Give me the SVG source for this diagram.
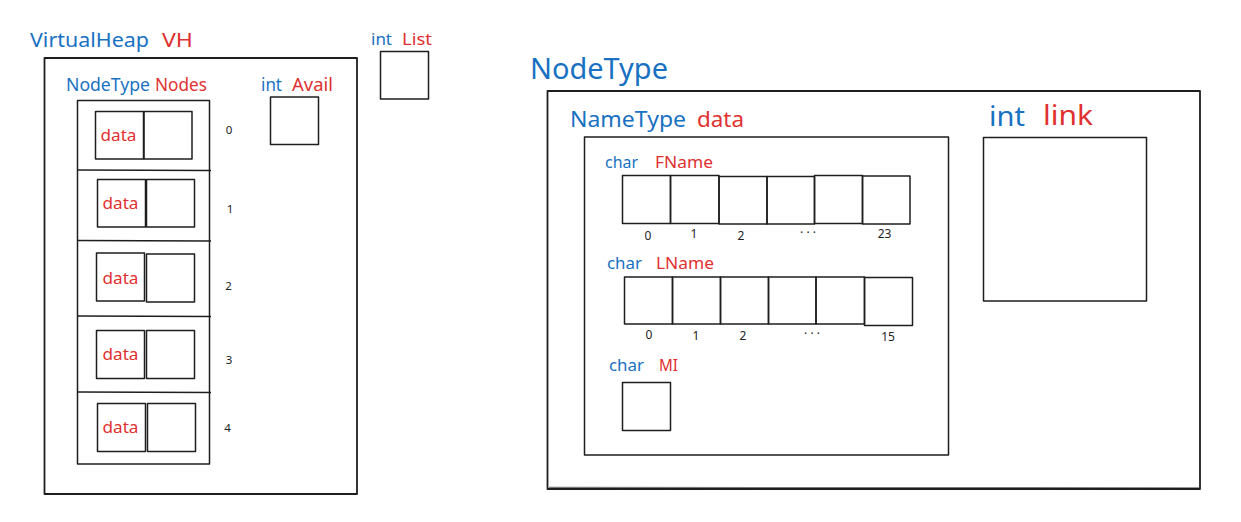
<svg xmlns="http://www.w3.org/2000/svg" width="1241" height="522" viewBox="0 0 1241 522">
<style>
.b{fill:none;stroke:#1e1e1e;stroke-width:1.5;stroke-linejoin:round}
.bo{fill:none;stroke:#1e1e1e;stroke-width:1.8;stroke-linejoin:round}
text{font-family:"Noto Sans","Open Sans",sans-serif}
.t{fill:#1971c2}
.r{fill:#e03131}
.n{fill:#1e1e1e;font-size:11.5px;text-anchor:middle}
.n2{fill:#1e1e1e;font-size:12px;text-anchor:middle}
</style>
<rect width="1241" height="522" fill="#ffffff"/>

<g id="virtualheap">
  <text x="30" y="47" font-size="20" class="t" textLength="119" lengthAdjust="spacingAndGlyphs">VirtualHeap</text>
  <text x="162" y="47" font-size="20" class="r" textLength="31" lengthAdjust="spacingAndGlyphs">VH</text>
  <rect class="bo" x="44.5" y="58" width="312.5" height="436"/>
</g>

<g id="nodes">
  <text x="66" y="90.5" font-size="18" class="t" textLength="84" lengthAdjust="spacingAndGlyphs">NodeType</text>
  <text x="155" y="90.5" font-size="18" class="r" textLength="52" lengthAdjust="spacingAndGlyphs">Nodes</text>
  <rect class="b" x="77.5" y="100.5" width="132" height="363.5"/>
  <line class="b" x1="77.5" y1="170" x2="211" y2="170.5"/>
  <line class="b" x1="77.5" y1="240.5" x2="211" y2="241"/>
  <line class="b" x1="77.5" y1="316" x2="211" y2="316.5"/>
  <line class="b" x1="77.5" y1="392" x2="211" y2="392.5"/>
</g>

<g id="node0">
  <rect class="b" x="95.5" y="111.5" width="48" height="47.5"/>
  <rect class="b" x="144" y="111.5" width="48" height="47.5"/>
  <text x="100.5" y="141" font-size="17" class="r" textLength="36" lengthAdjust="spacingAndGlyphs">data</text>
  <text x="229" y="133.5" class="n">0</text>
</g>
<g id="node1">
  <rect class="b" x="97.5" y="179.5" width="48" height="47.5"/>
  <rect class="b" x="146.5" y="179.5" width="48" height="47.5"/>
  <text x="102.5" y="209" font-size="17" class="r" textLength="36" lengthAdjust="spacingAndGlyphs">data</text>
  <text x="230" y="212.5" class="n">1</text>
</g>
<g id="node2">
  <rect class="b" x="96.5" y="253" width="48" height="48"/>
  <rect class="b" x="146.5" y="254" width="48" height="48"/>
  <text x="102.5" y="284" font-size="17" class="r" textLength="36" lengthAdjust="spacingAndGlyphs">data</text>
  <text x="228.5" y="290" class="n">2</text>
</g>
<g id="node3">
  <rect class="b" x="96.5" y="330.5" width="48" height="48"/>
  <rect class="b" x="146.5" y="330.5" width="48" height="48"/>
  <text x="102.5" y="360" font-size="17" class="r" textLength="36" lengthAdjust="spacingAndGlyphs">data</text>
  <text x="229" y="363.5" class="n">3</text>
</g>
<g id="node4">
  <rect class="b" x="97.5" y="403.5" width="48" height="48"/>
  <rect class="b" x="147.5" y="403.5" width="48" height="48"/>
  <text x="102.5" y="433" font-size="17" class="r" textLength="36" lengthAdjust="spacingAndGlyphs">data</text>
  <text x="227.5" y="431.5" class="n">4</text>
</g>

<g id="avail">
  <text x="261" y="90.5" font-size="18" class="t" textLength="21" lengthAdjust="spacingAndGlyphs">int</text>
  <text x="292" y="90.5" font-size="18" class="r" textLength="41" lengthAdjust="spacingAndGlyphs">Avail</text>
  <rect class="b" x="270.5" y="97" width="48" height="47.5"/>
</g>

<g id="list">
  <text x="371" y="44.5" font-size="17" class="t" textLength="21" lengthAdjust="spacingAndGlyphs">int</text>
  <text x="402" y="44.5" font-size="17" class="r" textLength="30" lengthAdjust="spacingAndGlyphs">List</text>
  <rect class="b" x="380.5" y="51.5" width="48" height="47.5"/>
</g>

<g id="nodetype">
  <text x="530" y="79" font-size="29" class="t" textLength="138" lengthAdjust="spacingAndGlyphs">NodeType</text>
  <rect class="bo" x="547.5" y="91" width="652.5" height="398"/>
  <line class="b" x1="549" y1="487.5" x2="1199" y2="488" stroke-opacity="0.6"/>
</g>

<g id="nametype">
  <text x="570" y="127" font-size="22" class="t" textLength="116" lengthAdjust="spacingAndGlyphs">NameType</text>
  <text x="697" y="127" font-size="22" class="r" textLength="47" lengthAdjust="spacingAndGlyphs">data</text>
  <rect class="b" x="584.5" y="137" width="364" height="318"/>
</g>

<g id="fname">
  <text x="605" y="168" font-size="17" class="t" textLength="33" lengthAdjust="spacingAndGlyphs">char</text>
  <text x="655" y="168" font-size="17" class="r" textLength="58" lengthAdjust="spacingAndGlyphs">FName</text>
  <rect class="b" x="622.5" y="175.5" width="48" height="48"/>
  <rect class="b" x="670.5" y="175.5" width="48.5" height="48"/>
  <rect class="b" x="719" y="176.5" width="48" height="47.5"/>
  <rect class="b" x="767" y="176.5" width="47.5" height="47.5"/>
  <rect class="b" x="814.5" y="175.5" width="48" height="48"/>
  <rect class="b" x="862.5" y="176" width="47.5" height="48"/>
  <text x="648" y="240" class="n2">0</text>
  <text x="694" y="238" class="n2">1</text>
  <text x="741" y="240" class="n2">2</text>
  <text x="808" y="237" class="n2">· · ·</text>
  <text x="884.5" y="238" class="n2">23</text>
</g>

<g id="lname">
  <text x="607" y="269" font-size="17" class="t" textLength="35" lengthAdjust="spacingAndGlyphs">char</text>
  <text x="656" y="269" font-size="17" class="r" textLength="58" lengthAdjust="spacingAndGlyphs">LName</text>
  <rect class="b" x="624.5" y="277" width="48" height="47"/>
  <rect class="b" x="672.5" y="277" width="48" height="47"/>
  <rect class="b" x="720.5" y="277" width="48" height="47"/>
  <rect class="b" x="768.5" y="277" width="47.5" height="47"/>
  <rect class="b" x="816" y="277" width="48.5" height="47"/>
  <rect class="b" x="864.5" y="277.5" width="48" height="48"/>
  <text x="649" y="339" class="n2">0</text>
  <text x="696" y="340" class="n2">1</text>
  <text x="743" y="340" class="n2">2</text>
  <text x="812" y="338" class="n2">· · ·</text>
  <text x="888" y="341" class="n2">15</text>
</g>

<g id="mi">
  <text x="609" y="371" font-size="17" class="t" textLength="35" lengthAdjust="spacingAndGlyphs">char</text>
  <text x="659" y="371" font-size="17" class="r" textLength="19" lengthAdjust="spacingAndGlyphs">MI</text>
  <rect class="b" x="622.5" y="382.5" width="48" height="48"/>
</g>

<g id="link">
  <text x="989" y="126" font-size="28" class="t" textLength="36" lengthAdjust="spacingAndGlyphs">int</text>
  <text x="1043" y="124.5" font-size="28" class="r" textLength="50" lengthAdjust="spacingAndGlyphs">link</text>
  <rect class="b" x="983.5" y="137.5" width="163" height="163.5"/>
</g>
</svg>
